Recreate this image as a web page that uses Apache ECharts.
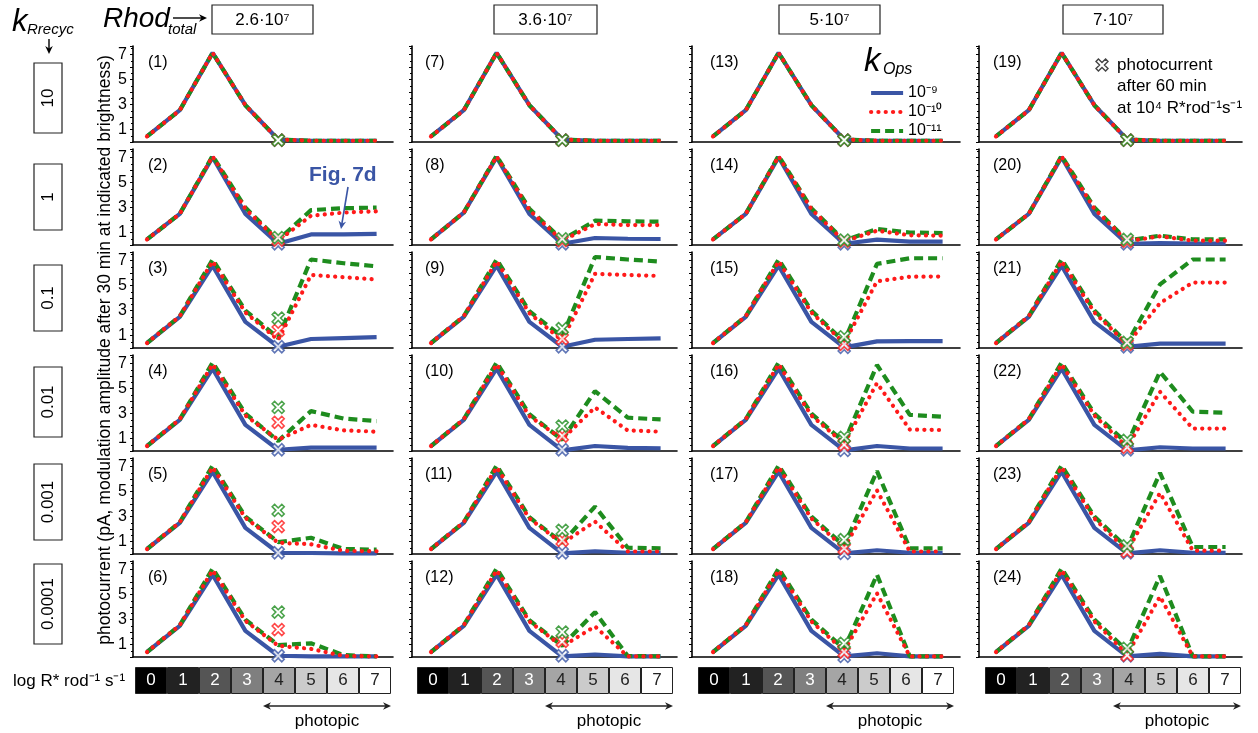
<!DOCTYPE html>
<html><head><meta charset="utf-8">
<script src="https://cdn.jsdelivr.net/npm/echarts@6/dist/echarts.min.js"></script>
<style>html,body{margin:0;padding:0;background:#fff}#c{width:1258px;height:733px}</style>
</head><body><div id="c"></div><script>
// ---------------- data ----------------
const xValues = [0, 1, 2, 3, 4, 5, 6, 7];
const rhodTotal = ['2.6·10⁷', '3.6·10⁷', '5·10⁷', '7·10⁷'];
const kRrecyc = ['10', '1', '0.1', '0.01', '0.001', '0.0001'];
const kOpsNames = ['10⁻⁹', '10⁻¹⁰', '10⁻¹¹'];
const logR = ['0', '1', '2', '3', '4', '5', '6', '7'];
const grayLevels = ['#000000', '#222222', '#555555', '#7f7f7f', '#a5a5a5', '#cbcbcb', '#e6e6e6', '#ffffff'];
// panels (1)..(24): column by column, top to bottom; values at x = 0..7
const kOps9 = [
  [0.45,2.55,7.15,2.95,0.2,0.1,0.1,0.1],
  [0.45,2.5,7.05,2.5,0.1,0.85,0.85,0.9],
  [0.4,2.5,6.6,2.1,0.1,0.72,0.8,0.88],
  [0.4,2.5,6.6,2.1,0.1,0.27,0.27,0.27],
  [0.4,2.5,6.6,2.1,0.1,0.08,0.05,0.05],
  [0.4,2.5,6.6,2.1,0.1,0.05,0.05,0.05],
  [0.45,2.55,7.15,2.95,0.2,0.1,0.1,0.1],
  [0.45,2.6,7.05,2.5,0.1,0.56,0.5,0.48],
  [0.4,2.5,6.6,2.1,0.1,0.66,0.72,0.77],
  [0.4,2.5,6.6,2.1,0.05,0.4,0.25,0.22],
  [0.4,2.5,6.6,2.1,0.05,0.22,0.1,0.1],
  [0.4,2.5,6.6,2.1,0.05,0.2,0.05,0.05],
  [0.45,2.55,7.15,2.95,0.2,0.1,0.1,0.1],
  [0.45,2.5,7.05,2.5,0.1,0.43,0.27,0.27],
  [0.4,2.5,6.6,2.1,0.05,0.53,0.55,0.55],
  [0.4,2.5,6.6,2.1,0.05,0.4,0.2,0.2],
  [0.4,2.5,6.6,2.1,0.05,0.3,0.1,0.1],
  [0.4,2.5,6.6,2.1,0.05,0.3,0.05,0.05],
  [0.45,2.55,7.15,2.95,0.2,0.1,0.1,0.1],
  [0.45,2.5,7.05,2.5,0.1,0.15,0.12,0.12],
  [0.4,2.5,6.6,2.1,0.1,0.35,0.35,0.35],
  [0.4,2.5,6.6,2.1,0.05,0.3,0.2,0.2],
  [0.4,2.5,6.6,2.1,0.05,0.3,0.1,0.1],
  [0.4,2.5,6.6,2.1,0.05,0.25,0.05,0.05]
];
const kOps10 = [
  [0.45,2.55,7.15,2.95,0.2,0.1,0.1,0.1],
  [0.45,2.5,7.1,2.9,0.35,2.35,2.6,2.7],
  [0.4,2.55,6.95,2.85,0.65,5.85,5.68,5.5],
  [0.4,2.55,6.95,2.85,0.9,2.1,1.65,1.55],
  [0.4,2.55,6.95,2.9,0.9,0.78,0.25,0.22],
  [0.4,2.55,6.95,2.9,0.9,0.65,0.08,0.05],
  [0.45,2.55,7.15,2.95,0.2,0.1,0.1,0.1],
  [0.45,2.6,7.1,2.8,0.35,1.68,1.6,1.6],
  [0.4,2.55,6.95,2.8,0.6,5.95,5.85,5.78],
  [0.4,2.55,6.95,2.8,0.95,3.5,1.65,1.55],
  [0.4,2.55,6.95,2.85,0.85,2.6,0.2,0.2],
  [0.4,2.55,6.95,2.85,0.85,2.45,0.05,0.05],
  [0.45,2.55,7.15,2.95,0.2,0.1,0.1,0.1],
  [0.45,2.5,7.1,2.88,0.3,1.15,0.78,0.75],
  [0.4,2.55,6.95,2.85,0.4,5.35,5.72,5.73],
  [0.4,2.55,6.95,2.85,0.6,5.45,1.72,1.68],
  [0.4,2.55,6.95,2.85,0.5,5.1,0.2,0.2],
  [0.4,2.55,6.95,2.85,0.5,5.1,0.05,0.05],
  [0.45,2.55,7.15,2.95,0.2,0.1,0.1,0.1],
  [0.45,2.5,7.1,2.9,0.3,0.7,0.35,0.35],
  [0.4,2.55,6.95,2.85,0.3,3.6,5.25,5.25],
  [0.4,2.55,6.95,2.85,0.3,4.75,1.8,1.8],
  [0.4,2.55,6.95,2.85,0.25,4.9,0.27,0.27],
  [0.4,2.55,6.95,2.85,0.2,4.85,0.05,0.05]
];
const kOps11 = [
  [0.45,2.55,7.15,2.95,0.2,0.1,0.1,0.1],
  [0.45,2.5,7.15,3.0,0.4,2.8,2.95,3.0],
  [0.4,2.55,7.1,3.0,0.8,7.1,6.8,6.55],
  [0.4,2.55,7.1,3.0,0.8,3.2,2.6,2.4],
  [0.4,2.55,7.1,3.0,0.95,1.3,0.4,0.35],
  [0.4,2.55,7.1,3.0,0.95,1.1,0.15,0.05],
  [0.45,2.55,7.15,2.95,0.2,0.1,0.1,0.1],
  [0.45,2.6,7.15,2.9,0.4,1.95,1.9,1.87],
  [0.4,2.55,7.1,2.95,0.9,7.3,7.1,6.93],
  [0.4,2.55,7.1,2.95,0.9,4.8,2.67,2.53],
  [0.4,2.55,7.1,2.95,0.9,3.8,0.5,0.45],
  [0.4,2.55,7.1,2.95,0.9,3.6,0.08,0.05],
  [0.45,2.55,7.15,2.95,0.2,0.1,0.1,0.1],
  [0.45,2.5,7.15,2.95,0.35,1.28,1.0,0.96],
  [0.4,2.55,7.1,3.0,0.5,6.75,7.2,7.2],
  [0.4,2.55,7.1,3.0,0.7,6.9,2.9,2.75],
  [0.4,2.55,7.1,3.0,0.65,6.65,0.45,0.45],
  [0.4,2.55,7.1,3.0,0.65,6.6,0.05,0.05],
  [0.45,2.55,7.15,2.95,0.2,0.1,0.1,0.1],
  [0.45,2.5,7.15,3.0,0.35,0.75,0.45,0.45],
  [0.4,2.55,7.1,3.0,0.4,5.1,7.1,7.1],
  [0.4,2.55,7.1,3.0,0.6,6.35,3.15,3.07],
  [0.4,2.55,7.1,3.0,0.5,6.5,0.56,0.56],
  [0.4,2.55,7.1,3.0,0.5,6.5,0.05,0.05]
];
// photocurrent after 60 min at x = 4: [kOps 1e-9, 1e-10, 1e-11]
const mark60 = [
  [0.15,0.15,0.15],[0.1,0.4,0.6],[0.1,1.4,2.4],[0.1,2.3,3.5],[0.1,2.2,3.5],[0.1,2.2,3.6],
  [0.15,0.15,0.15],[0.1,0.35,0.5],[0.1,0.75,1.55],[0.1,1.2,2.0],[0.1,1.1,1.9],[0.1,1.25,2.0],
  [0.15,0.15,0.15],[0.1,0.3,0.4],[0.05,0.3,0.9],[0.05,0.5,1.1],[0.05,0.45,1.15],[0.05,0.4,1.1],
  [0.15,0.15,0.15],[0.1,0.3,0.45],[0.1,0.3,0.45],[0.1,0.3,0.85],[0.1,0.2,0.65],[0.1,0.15,0.7]
];
const markX = 4;

// ---------------- layout ----------------
const colLeft = [133, 412, 692, 979], colRight = [393, 677, 960, 1242], colX0 = [147, 431, 713, 996];
const rowBottom = [142, 245, 348, 451, 554, 657];
const U = 32.8, PH = 96, YMAX = 7.7;
const boxLeft = [135, 417, 698, 985];
const FONT = '"Liberation Sans", Arial, Helvetica, sans-serif';
const C_BLUE = '#3a55a5', C_RED = '#ff1a1a', C_GREEN = '#1e8c1e';
const XPTS = [[2,0],[5,3],[8,0],[10,2],[7,5],[10,8],[8,10],[5,7],[2,10],[0,8],[3,5],[0,2]];
const XPATH = 'path://M' + XPTS.map(p => p.join(',')).join('L') + 'Z';

const grids = [], xAxes = [], yAxes = [], series = [];
const pts = arr => xValues.map((x, i) => [x, arr[i]]);

for (let c = 0; c < 4; c++) {
  for (let r = 0; r < 6; r++) {
    const idx = c * 6 + r, gi = grids.length;
    grids.push({ left: colLeft[c], top: rowBottom[r] - PH, width: colRight[c] - colLeft[c], height: PH });
    xAxes.push({ type: 'value', gridIndex: gi, min: (colLeft[c] - colX0[c]) / U, max: (colRight[c] - colX0[c]) / U,
      axisLine: { show: true, onZero: false, lineStyle: { color: '#000', width: 1.6 } },
      axisTick: { show: false }, axisLabel: { show: false }, splitLine: { show: false } });
    yAxes.push({ type: 'value', gridIndex: gi, min: 0, max: YMAX, interval: 1,
      axisLine: { show: true, onZero: false, lineStyle: { color: '#000', width: 1.6 } },
      axisTick: { show: true, length: 3, lineStyle: { color: '#000', width: 1 } },
      minorTick: { show: true, splitNumber: 2, length: 2, lineStyle: { color: '#000', width: 1 } },
      axisLabel: { show: c === 0, fontSize: 16, fontFamily: FONT, color: '#000', margin: 6,
        formatter: v => (Math.abs(v % 2 - 1) < 1e-9 ? String(v) : '') },
      splitLine: { show: false } });
    series.push({ type: 'line', name: kOpsNames[0], xAxisIndex: gi, yAxisIndex: gi, data: pts(kOps9[idx]),
      symbol: 'none', clip: false, z: 2, animation: false,
      lineStyle: { color: C_BLUE, width: 4.2 }, itemStyle: { color: C_BLUE } });
    series.push({ type: 'line', name: kOpsNames[2], xAxisIndex: gi, yAxisIndex: gi, data: pts(kOps11[idx]),
      symbol: 'none', clip: false, z: 3, animation: false,
      lineStyle: { color: C_GREEN, width: 4.2, type: [9, 5] }, itemStyle: { color: C_GREEN } });
    series.push({ type: 'line', name: kOpsNames[1], xAxisIndex: gi, yAxisIndex: gi, data: pts(kOps10[idx]),
      symbol: 'none', clip: false, z: 4, animation: false,
      lineStyle: { color: C_RED, width: 4.2, type: [0.1, 7.2], cap: 'round' }, itemStyle: { color: C_RED } });
    const m = mark60[idx];
    series.push({ type: 'scatter', xAxisIndex: gi, yAxisIndex: gi, symbol: XPATH, symbolSize: 12, z: 5,
      animation: false, silent: true, clip: false,
      itemStyle: { color: '#fff', borderWidth: 1.6 },
      data: [
        { value: [markX, m[0]], itemStyle: { borderColor: C_BLUE } },
        { value: [markX, m[1]], itemStyle: { borderColor: C_RED } },
        { value: [markX, m[2]], itemStyle: { borderColor: C_GREEN } }
      ] });
  }
}
// grayscale intensity bars
for (let c = 0; c < 4; c++) {
  const gi = grids.length;
  grids.push({ left: boxLeft[c], top: 667, width: 256, height: 27 });
  xAxes.push({ type: 'category', gridIndex: gi, data: logR, show: false });
  yAxes.push({ type: 'value', gridIndex: gi, min: 0, max: 1, show: false });
  series.push({ type: 'bar', xAxisIndex: gi, yAxisIndex: gi, barWidth: '100%', barCategoryGap: '0%',
    animation: false, silent: true,
    itemStyle: { borderColor: '#222', borderWidth: 1 },
    label: { show: true, position: 'inside', formatter: p => p.name, fontSize: 17, fontFamily: FONT },
    data: logR.map((l, i) => ({ value: 1, itemStyle: { color: grayLevels[i] }, label: { color: i < 4 ? '#fff' : '#222' } })) });
}

// ---------------- annotations ----------------
const G = [];
function txt(x, y, text, o = {}) {
  G.push({ type: 'text', x, y, rotation: o.rot || 0, z: 10, silent: true,
    style: { text, fontSize: o.size || 16, fontFamily: FONT, fontStyle: o.italic ? 'italic' : 'normal',
      fontWeight: o.bold ? 'bold' : 'normal', fill: o.color || '#000',
      textAlign: o.align || 'left', align: o.align || 'left',
      textVerticalAlign: 'middle', verticalAlign: 'middle' } });
}
function rect(x, y, w, h) {
  G.push({ type: 'rect', z: 9, silent: true, shape: { x, y, width: w, height: h }, style: { fill: '#fff', stroke: '#222', lineWidth: 1.2 } });
}
function arrow(x1, y1, x2, y2, color, w, both) {
  const dx = x2 - x1, dy = y2 - y1, L = Math.hypot(dx, dy), ux = dx / L, uy = dy / L, nx = -uy, ny = ux;
  const hl = 8, hw = 3.8;
  const head = (tx, ty, sx, sy) => G.push({ type: 'polygon', z: 10, silent: true,
    shape: { points: [[tx, ty], [tx - sx * hl + nx * hw, ty - sy * hl + ny * hw], [tx - sx * hl * 0.7, ty - sy * hl * 0.7], [tx - sx * hl - nx * hw, ty - sy * hl - ny * hw]] },
    style: { fill: color } });
  G.push({ type: 'line', z: 10, silent: true,
    shape: { x1: both ? x1 + ux * 5 : x1, y1: both ? y1 + uy * 5 : y1, x2: x2 - ux * 5, y2: y2 - uy * 5 },
    style: { stroke: color, lineWidth: w } });
  head(x2, y2, ux, uy);
  if (both) head(x1, y1, -ux, -uy);
}

// header
txt(12, 22, 'k', { size: 31, italic: true });
txt(27, 30, 'Rrecyc', { size: 15, italic: true });
arrow(49, 39, 49, 54, '#000', 1.4, false);
txt(103, 19, 'Rhod', { size: 28, italic: true });
txt(168, 30, 'total', { size: 15, italic: true });
arrow(173, 18, 207, 18, '#000', 1.4, false);
const topBoxL = [212, 494, 779, 1063], topBoxW = [101, 103, 101, 100];
rhodTotal.forEach((t, i) => { rect(topBoxL[i], 5, topBoxW[i], 29); txt(topBoxL[i] + topBoxW[i] / 2, 20, t, { size: 17, align: 'center' }); });

// left k_Rrecyc boxes
const lbCy = [98, 197, 298, 402, 502, 604], lbH = [70, 66, 66, 70, 76, 80];
kRrecyc.forEach((t, i) => { rect(34, lbCy[i] - lbH[i] / 2, 28, lbH[i]); txt(48, lbCy[i], t, { size: 17, align: 'center', rot: Math.PI / 2 }); });

// y-axis title
txt(105, 350, 'photocurrent (pA, modulation amplitude after 30 min at indicated brightness)', { size: 17.5, align: 'center', rot: Math.PI / 2 });

// panel labels
const plX = [148, 425, 710, 993];
for (let c = 0; c < 4; c++) for (let r = 0; r < 6; r++) txt(plX[c], rowBottom[r] - 79, '(' + (c * 6 + r + 1) + ')', { size: 16 });

// legend header k_Ops
txt(864, 62, 'k', { size: 33, italic: true });
txt(883, 70, 'Ops', { size: 16, italic: true });

// photocurrent annotation glyph
G.push({ type: 'polygon', z: 10, silent: true,
  shape: { points: XPTS.map(p => [1096 + p[0] * 1.2, 59 + p[1] * 1.2]) },
  style: { fill: '#fff', stroke: '#444', lineWidth: 1.4 } });
txt(1117, 65, 'photocurrent', { size: 17 });
txt(1117, 86, 'after 60 min', { size: 17 });
txt(1117, 108, 'at 10⁴ R*rod⁻¹s⁻¹', { size: 17 });

// Fig. 7d
txt(309, 175, 'Fig. 7d', { size: 21, bold: true, color: C_BLUE });
arrow(348, 187, 341, 229, C_BLUE, 1.6, false);

// bottom
txt(13, 681, 'log R* rod⁻¹ s⁻¹', { size: 17 });
boxLeft.forEach(bl => {
  arrow(bl + 128, 706, bl + 256, 706, '#222', 1.3, true);
  txt(bl + 192, 721, 'photopic', { size: 17, align: 'center' });
});

const chart = echarts.init(document.getElementById('c'), null, { renderer: 'canvas', width: 1258, height: 733 });
chart.setOption({
  backgroundColor: '#fff',
  animation: false,
  grid: grids, xAxis: xAxes, yAxis: yAxes, series,
  legend: { data: kOpsNames.map(n => ({ name: n })), left: 864, top: 80, orient: 'vertical', itemWidth: 32, itemHeight: 14,
    itemGap: 3, selectedMode: false, itemStyle: { opacity: 0 }, lineStyle: { width: 4.2 },
    textStyle: { fontSize: 16, fontFamily: FONT, color: '#000' } },
  graphic: { elements: G }
});
</script></body></html>
